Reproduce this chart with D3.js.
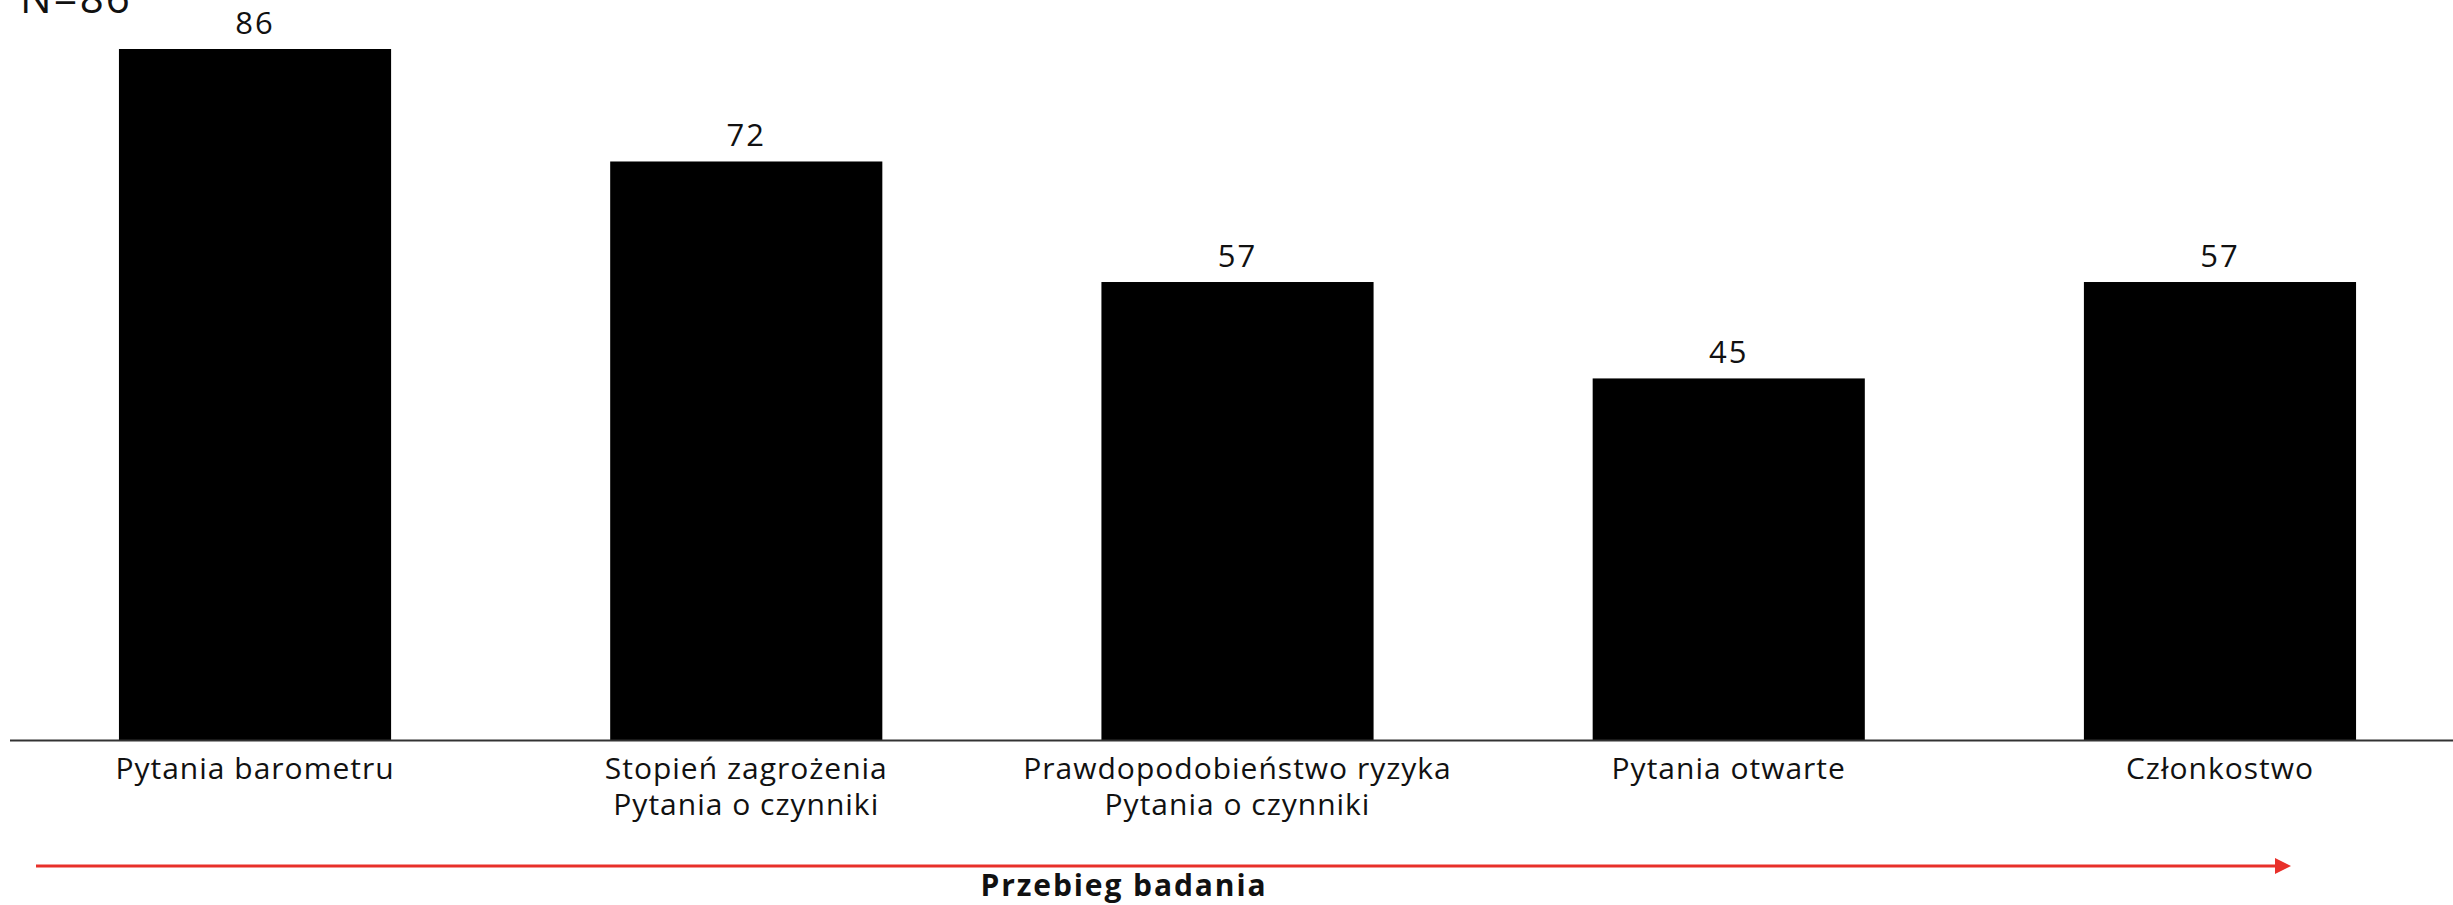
<!DOCTYPE html>
<html>
<head>
<meta charset="utf-8">
<script src="https://cdn.jsdelivr.net/npm/d3@7"></script>
<style>
  html, body { margin: 0; padding: 0; background: #fff; }
  svg { display: block; }
  text { font-family: "Open Sans", "Noto Sans", sans-serif; fill: #111; }
</style>
</head>
<body>
<svg id="chart" width="2453" height="905"></svg>
<script>
const categories = [
  "Pytania barometru",
  "Stopień zagrożenia\nPytania o czynniki",
  "Prawdopodobieństwo ryzyka\nPytania o czynniki",
  "Pytania otwarte",
  "Członkostwo"
];
const values = [86, 72, 57, 45, 57];
const sampleLabel = "N=86";
const processLabel = "Przebieg badania";

const W = 2453, H = 905;
const svg = d3.select("#chart");

const x = d3.scaleBand()
  .domain(categories)
  .range([9.4, 2465.6])
  .paddingInner(0.446)
  .paddingOuter(0.223);

const y = d3.scaleLinear()
  .domain([0, d3.max(values)])
  .range([740, 49]);

const data = categories.map((c, i) => ({ c, v: values[i] }));

// bars
svg.append("g").selectAll("rect")
  .data(data)
  .join("rect")
  .attr("x", d => x(d.c))
  .attr("y", d => y(d.v))
  .attr("width", x.bandwidth())
  .attr("height", d => y(0) - y(d.v))
  .attr("fill", "#000");

// value labels
svg.append("g").selectAll("text")
  .data(data)
  .join("text")
  .attr("x", d => x(d.c) + x.bandwidth() / 2)
  .attr("y", d => y(d.v) - 15)
  .attr("text-anchor", "middle")
  .style("font-size", "31px")
  .style("letter-spacing", "2px")
  .text(d => d.v);

// x axis
const axis = svg.append("g")
  .attr("transform", `translate(0,${y(0)})`)
  .call(d3.axisBottom(x).tickSize(0).tickPadding(0));
axis.select(".domain").remove();
axis.append("line")
  .attr("x1", 10).attr("x2", W)
  .attr("y1", 0.5).attr("y2", 0.5)
  .attr("stroke", "#333")
  .attr("stroke-width", 2);
axis.selectAll(".tick text")
  .attr("y", null)
  .attr("dy", null)
  .style("font-size", "30px")
  .style("font-family", "'Open Sans', 'Noto Sans', sans-serif")
  .style("letter-spacing", "1px")
  .attr("fill", "#111")
  .each(function(d) {
    const t = d3.select(this);
    const lines = d.split("\n");
    t.text(null);
    lines.forEach((ln, i) => {
      t.append("tspan")
        .attr("x", 0)
        .attr("y", 39 + i * 36)
        .text(ln);
    });
  });

// N label
svg.append("text")
  .attr("x", 20)
  .attr("y", 13)
  .style("font-size", "42px")
  .style("letter-spacing", "2px")
  .text(sampleLabel);

// process arrow
const defs = svg.append("defs");
defs.append("marker")
  .attr("id", "arrow")
  .attr("viewBox", "0 0 16 16")
  .attr("refX", 0).attr("refY", 8)
  .attr("markerWidth", 16).attr("markerHeight", 16)
  .attr("markerUnits", "userSpaceOnUse")
  .attr("orient", "auto")
  .append("path")
  .attr("d", "M0,0 L16,8 L0,16 Z")
  .attr("fill", "#e8302a");

svg.append("line")
  .attr("x1", 36).attr("x2", 2275)
  .attr("y1", 866).attr("y2", 866)
  .attr("stroke", "#e8302a")
  .attr("stroke-width", 3)
  .attr("marker-end", "url(#arrow)");

svg.append("text")
  .attr("x", 1124)
  .attr("y", 896)
  .attr("text-anchor", "middle")
  .style("font-size", "30px")
  .style("font-weight", "700")
  .style("letter-spacing", "1.9px")
  .text(processLabel);
</script>
</body>
</html>
